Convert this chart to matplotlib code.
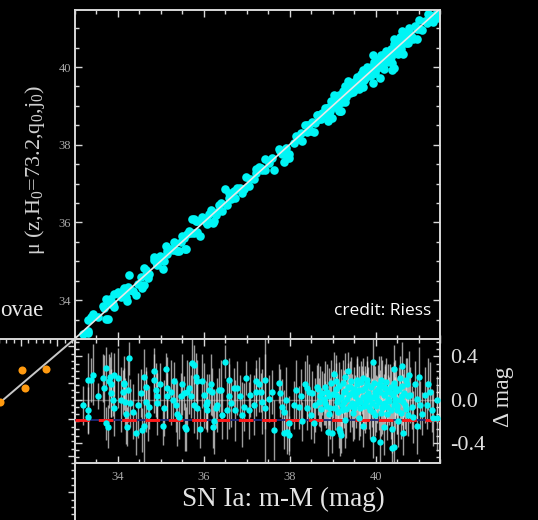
import numpy as np
import matplotlib
matplotlib.use("Agg")
import matplotlib.pyplot as plt
from matplotlib.ticker import MultipleLocator, FormatStrFormatter, NullFormatter

plt.rcParams["font.family"] = ["Liberation Serif", "DejaVu Serif"]
plt.rcParams["mathtext.fontset"] = "custom"
plt.rcParams["mathtext.rm"] = "Liberation Serif"
plt.rcParams["mathtext.it"] = "Liberation Serif:italic"
plt.rcParams["axes.unicode_minus"] = False

# --- SN Ia residuals: distance modulus m-M and delta mag ---
low_x = [33.19, 33.31, 33.32, 33.31, 33.39, 33.42, 33.54, 33.66, 33.68, 33.73,
         33.73, 33.77, 33.81, 33.83, 33.85, 33.85, 33.89, 33.91, 33.93, 34.00,
         34.08, 34.12, 34.14, 34.16, 34.17, 34.20, 34.22, 34.24, 34.27, 34.30,
         34.35, 34.43, 34.47, 34.54, 34.58, 34.62, 34.62, 34.66, 34.66, 34.70,
         34.74, 34.85, 34.85, 34.89, 34.91, 34.93, 34.99, 35.05, 35.08, 35.12,
         35.15, 35.16, 35.24, 35.28, 35.32, 35.35, 35.39, 35.43, 35.47, 35.51,
         35.55, 35.56, 35.59, 35.62, 35.66, 35.70, 35.74, 35.78, 35.79, 35.82,
         35.84, 35.86, 35.93, 35.97, 36.01, 36.05, 36.07, 36.09, 36.13, 36.17,
         36.20, 36.23, 36.24, 36.28, 36.32, 36.36, 36.40, 36.44, 36.51, 36.55,
         36.59, 36.59, 36.63, 36.71, 36.74, 36.78, 36.86, 36.90, 36.94, 36.98,
         37.05, 37.09, 37.17, 37.21]
low_res = [-0.05, -0.10, -0.16, 0.18, 0.18, 0.23, 0.03, 0.20, 0.11, 0.29,
           -0.22, -0.25, 0.17, 0.21, 0.14, 0.06, 0.00, -0.08, 0.23, 0.20,
           0.00, 0.07, 0.14, 0.15, -0.02, -0.13, -0.25, 0.09, 0.38, -0.03,
           -0.11, -0.31, -0.05, 0.06, -0.28, 0.21, -0.24, 0.12, -0.02, -0.14,
           -0.07, 0.26, 0.18, 0.09, 0.03, -0.03, 0.14, -0.24, -0.08, 0.28,
           0.11, 0.03, 0.07, 0.00, 0.17, -0.05, -0.13, -0.16, 0.03, 0.14,
           0.06, -0.25, -0.27, 0.07, 0.11, 0.03, 0.34, 0.32, -0.05, 0.21,
           -0.08, 0.17, -0.27, 0.17, 0.04, -0.05, -0.10, -0.02, 0.09, 0.14,
           0.07, -0.25, -0.20, -0.08, -0.05, 0.09, 0.09, -0.14, 0.35, -0.10,
           0.03, 0.18, -0.03, 0.11, -0.10, 0.11, 0.03, -0.14, -0.07, 0.20,
           -0.10, 0.04, -0.05, 0.07]
low_err = [0.18, 0.22, 0.15, 0.25, 0.20, 0.28, 0.12, 0.22, 0.30, 0.20,
           0.15, 0.20, 0.25, 0.18, 0.30, 0.22, 0.15, 0.26, 0.20, 0.28,
           0.30, 0.20, 0.15, 0.25, 0.22, 0.28, 0.18, 0.30, 0.15, 0.22,
           0.25, 0.20, 0.30, 0.22, 0.20, 0.26, 0.38, 0.18, 0.28, 0.24,
           0.20, 0.16, 0.30, 0.25, 0.22, 0.30, 0.20, 0.18, 0.26, 0.15,
           0.28, 0.22, 0.30, 0.20, 0.18, 0.25, 0.30, 0.20, 0.22, 0.28,
           0.16, 0.22, 0.20, 0.30, 0.24, 0.20, 0.32, 0.18, 0.26, 0.22,
           0.28, 0.20, 0.18, 0.25, 0.30, 0.22, 0.20, 0.26, 0.15, 0.28,
           0.22, 0.20, 0.30, 0.18, 0.25, 0.20, 0.28, 0.22, 0.15, 0.26,
           0.30, 0.20, 0.22, 0.18, 0.28, 0.25, 0.20, 0.30, 0.22, 0.16,
           0.26, 0.20, 0.28, 0.22]

high_x = [37.21, 37.29, 37.33, 37.37, 37.44, 37.44, 37.52, 37.60, 37.64, 37.75,
          37.79, 37.83, 37.87, 37.91, 37.87, 37.95, 37.99, 37.99, 38.10, 38.14,
          38.22, 38.26, 38.29, 38.37, 38.41, 38.41, 38.45, 38.49, 38.53, 38.56,
          38.60, 38.64, 38.68, 38.72, 38.76, 38.80, 38.83, 38.87, 38.90, 38.91,
          38.95, 38.99, 39.03, 39.07, 39.07, 39.10, 39.13, 39.14, 39.18, 39.20,
          39.22, 39.26, 39.30, 39.30, 39.34, 39.37, 39.41, 39.45, 39.49, 39.53,
          39.57, 39.57, 39.61, 39.65, 39.68, 39.72, 39.72, 39.76, 39.80, 39.80,
          39.84, 39.88, 39.92, 39.95, 39.95, 39.99, 39.99, 40.03, 40.07, 40.11,
          40.13, 40.15, 40.19, 40.19, 40.22, 40.22, 40.26, 40.30, 40.34, 40.38,
          40.38, 40.42, 40.42, 40.44, 40.46, 40.46, 40.49, 40.53, 40.57, 40.61,
          40.61, 40.65, 40.69, 40.73, 40.76, 40.78, 40.80, 40.84, 40.88, 40.92,
          40.96, 40.96, 41.00, 41.03, 41.07, 41.15, 41.19, 41.23, 41.27, 41.31,
          41.34, 41.42, 41.44]
high_res = [0.17, 0.14, 0.07, -0.02, 0.18, -0.08, 0.01, 0.07, -0.28, 0.15,
            0.06, -0.07, -0.11, 0.00, -0.31, -0.30, -0.22, -0.33, -0.05, 0.09,
            -0.07, 0.03, -0.20, 0.14, 0.11, -0.08, 0.07, -0.14, 0.06, -0.22,
            -0.05, 0.12, -0.02, 0.03, 0.06, 0.01, -0.03, 0.07, -0.30, -0.13,
            -0.08, -0.31, 0.24, 0.17, 0.04, -0.02, -0.11, -0.27, -0.30, -0.33,
            -0.05, 0.07, 0.21, -0.19, 0.01, 0.26, 0.12, -0.03, -0.08, 0.03,
            0.18, 0.07, -0.17, -0.02, 0.09, 0.20, -0.24, -0.05, 0.14, 0.04,
            0.01, -0.10, -0.03, -0.36, 0.35, 0.07, -0.14, 0.00, 0.14, -0.39,
            0.18, -0.08, 0.04, -0.25, 0.11, -0.03, -0.13, 0.01, 0.07, -0.45,
            -0.27, -0.44, -0.05, 0.28, 0.11, 0.01, -0.10, -0.20, 0.20, 0.31,
            0.03, -0.31, -0.05, 0.14, -0.14, 0.23, 0.04, -0.07, -0.16, 0.14,
            -0.24, 0.01, 0.21, -0.05, -0.13, 0.04, -0.05, 0.14, 0.07, -0.10,
            -0.17, 0.00, -0.17]
high_err = [0.20, 0.25, 0.18, 0.30, 0.45, 0.50, 0.22, 0.20, 0.28, 0.18,
            0.22, 0.26, 0.20, 0.30, 0.15, 0.20, 0.25, 0.18, 0.22, 0.28,
            0.20, 0.25, 0.18, 0.22, 0.30, 0.20, 0.26, 0.22, 0.20, 0.18,
            0.25, 0.20, 0.22, 0.28, 0.20, 0.24, 0.20, 0.26, 0.22, 0.20,
            0.28, 0.18, 0.20, 0.24, 0.22, 0.26, 0.20, 0.18, 0.22, 0.16,
            0.24, 0.20, 0.22, 0.26, 0.20, 0.18, 0.24, 0.22, 0.28, 0.20,
            0.22, 0.26, 0.20, 0.24, 0.22, 0.18, 0.20, 0.26, 0.22, 0.24,
            0.20, 0.26, 0.22, 0.18, 0.25, 0.24, 0.20, 0.22, 0.26, 0.20,
            0.22, 0.24, 0.20, 0.26, 0.22, 0.20, 0.24, 0.22, 0.26, 0.18,
            0.22, 0.20, 0.24, 0.22, 0.26, 0.20, 0.22, 0.24, 0.20, 0.22,
            0.26, 0.20, 0.22, 0.24, 0.20, 0.22, 0.26, 0.20, 0.24, 0.22,
            0.26, 0.20, 0.28, 0.22, 0.20, 0.26, 0.22, 0.24, 0.28, 0.20,
            0.26, 0.22, 0.30]

# the crowded part of the Hubble flow, 38.7 < m-M < 40.8
cloud_x = [39.02, 39.05, 39.09, 39.12, 39.16, 39.19, 39.21, 39.24, 39.27, 39.29,
           39.32, 39.35, 39.38, 39.40, 39.43, 39.46, 39.48, 39.51, 39.54, 39.56,
           39.59, 39.62, 39.64, 39.67, 39.70, 39.73, 39.75, 39.78, 39.81, 39.83,
           39.86, 39.89, 39.91, 39.94, 39.97, 40.00, 40.02, 40.05, 40.08, 40.10,
           40.12, 40.16, 40.18, 40.21, 40.24, 40.27, 40.29, 40.32, 40.35, 40.37,
           40.40, 40.43, 40.45, 40.48, 40.51, 40.54, 40.56, 40.59, 40.62, 40.64,
           40.67, 40.70, 40.72, 40.75, 38.82, 38.86, 38.93, 38.97, 38.74, 38.66]
cloud_res = [0.05, -0.08, 0.10, 0.00, 0.13, 0.02, -0.10, 0.15, -0.02, 0.08,
             -0.09, 0.12, 0.04, -0.06, 0.17, 0.06, -0.12, 0.10, -0.04, 0.14,
             0.00, 0.09, -0.08, 0.16, 0.02, -0.06, 0.11, -0.01, 0.18, 0.06,
             -0.07, 0.12, 0.02, -0.11, 0.15, 0.03, -0.06, 0.10, -0.02, 0.07,
             -0.12, 0.13, -0.04, 0.05, 0.16, -0.07, 0.09, -0.01, 0.12, -0.10,
             0.04, 0.15, -0.03, 0.08, -0.06, 0.10, 0.00, -0.12, 0.13, -0.02,
             0.06, 0.18, -0.09, 0.03, 0.12, -0.06, 0.03, 0.15, -0.09, 0.10]
cloud_err = [0.22, 0.20, 0.24, 0.18, 0.22, 0.26, 0.20, 0.22, 0.24, 0.20,
             0.26, 0.22, 0.20, 0.24, 0.22, 0.18, 0.26, 0.20, 0.22, 0.24,
             0.20, 0.22, 0.26, 0.20, 0.24, 0.22, 0.20, 0.26, 0.22, 0.24,
             0.20, 0.22, 0.18, 0.26, 0.22, 0.20, 0.24, 0.22, 0.26, 0.20,
             0.22, 0.24, 0.20, 0.26, 0.22, 0.20, 0.24, 0.22, 0.18, 0.26,
             0.22, 0.20, 0.24, 0.22, 0.26, 0.20, 0.22, 0.24, 0.20, 0.26,
             0.22, 0.20, 0.24, 0.22, 0.24, 0.20, 0.26, 0.22, 0.20, 0.24]

offset_level = -0.19      # red dashed reference level in the residual panel

# neighbouring (cut off) panel on the left: a few orange calibrators and their fit
ladder_x = [32.51, 32.84, 32.555, 32.212]
ladder_y = [32.675, 32.69, 32.43, 32.237]
ladder_slope = 0.853
ladder_pivot = (33.233, 33.1)

dm = np.array(low_x + high_x + cloud_x)
res = np.array(low_res + high_res + cloud_res)
err = np.array(low_err + high_err + cloud_err)
mu = dm + res

W, H = 538, 520
CYAN = "#00f5f5"
SPINE = "#d8d8d8"
TICKLAB = "#a8a8a8"

fig = plt.figure(figsize=(W / 100, H / 100), dpi=100, facecolor="black")


def px_axes(left, top, right, bottom):
    return fig.add_axes([left / W, 1 - bottom / H, (right - left) / W, (bottom - top) / H])


def style(ax):
    ax.set_facecolor("black")
    for s in ax.spines.values():
        s.set_color(SPINE)
        s.set_linewidth(1.4)
    ax.tick_params(which="both", direction="in", color=SPINE, width=1.0,
                   top=True, right=True, labelcolor=TICKLAB, labelsize=9)
    ax.tick_params(which="major", length=5)
    ax.tick_params(which="minor", length=2.6)


# left neighbour panel (mostly outside the frame)
ax_l = px_axes(-290.5, 339, 74.5, 704)
style(ax_l)
ax_l.set_xlim(ladder_pivot[0] - 5, ladder_pivot[0])
ax_l.set_ylim(ladder_pivot[1] - 5, ladder_pivot[1])
lx = np.array(ax_l.get_xlim())
ax_l.plot(lx, ladder_pivot[1] + ladder_slope * (lx - ladder_pivot[0]), color="#c8c8c8", lw=1.4)
ax_l.plot(ladder_x, ladder_y, "o", color="#ff9a10", ms=5.8, mec="none")
ax_l.xaxis.set_major_locator(MultipleLocator(0.5))
ax_l.xaxis.set_minor_locator(MultipleLocator(0.1))
ax_l.yaxis.set_major_locator(MultipleLocator(0.5))
ax_l.yaxis.set_minor_locator(MultipleLocator(0.1))
ax_l.tick_params(which="both", bottom=False, left=False, labelbottom=False, labelleft=False)

# Hubble diagram
ax_t = px_axes(74.5, 9.5, 440, 339)
style(ax_t)
ax_t.set_xlim(33, 41.5)
ax_t.set_ylim(33, 41.48)
ax_t.plot(dm, mu, "o", color=CYAN, ms=6.2, mec="none", zorder=2)
fx = np.array(ax_t.get_xlim())
ax_t.plot(fx, fx, color="#e8e8e8", lw=1.2, zorder=3)
ax_t.xaxis.set_major_locator(MultipleLocator(2))
ax_t.xaxis.set_minor_locator(MultipleLocator(0.5))
ax_t.yaxis.set_major_locator(MultipleLocator(2))
ax_t.yaxis.set_minor_locator(MultipleLocator(0.5))
ax_t.xaxis.set_major_formatter(NullFormatter())
ax_t.tick_params(axis="y", pad=2.5)

# residuals
ax_b = px_axes(74.5, 339, 440, 462.5)
style(ax_b)
ax_b.set_xlim(33, 41.5)
ax_b.set_ylim(-0.58, 0.56)
ax_b.axhline(0, color="#bbbbbb", lw=1.0, alpha=0.5, zorder=1)
ax_b.vlines(dm, res - err, res + err, color="#dadada", lw=1.0, alpha=0.72, zorder=2)
ax_b.axhline(offset_level, color="#1c2a7a", lw=1.3, zorder=3)
ax_b.axhline(offset_level, color="#ff1a1a", lw=2.1, dashes=(5, 3), zorder=3)
ax_b.plot(dm, res, "o", color=CYAN, ms=4.6, mec="none", zorder=4)
ax_b.xaxis.set_major_locator(MultipleLocator(2))
ax_b.xaxis.set_minor_locator(MultipleLocator(0.5))
ax_b.yaxis.set_major_locator(MultipleLocator(0.4))
ax_b.yaxis.set_minor_locator(MultipleLocator(0.4 / 6))
ax_b.yaxis.set_major_formatter(FormatStrFormatter("%.1f"))
ax_b.tick_params(axis="x", pad=6)
ax_b.tick_params(axis="y", labelleft=False, labelright=True, labelsize=16,
                 labelcolor="#dedede", pad=7)

# labels
fig.text(35 / W, 1 - 170 / H, r"μ (z,H$_0$=73.2,q$_0$,j$_0$)", rotation=90,
         ha="center", va="center", color="#d0d0d0", fontsize=16)
fig.text(283 / W, 1 - 506 / H, "SN Ia: m-M (mag)", ha="center", va="baseline",
         color="#e4e4e4", fontsize=19.5)
fig.text(504 / W, 1 - 397 / H, "Δ mag", rotation=90, ha="center", va="center",
         color="#dedede", fontsize=17)
fig.text(43 / W, 1 - 311 / H, "ovae", ha="right", va="center", color="#e8e8e8",
         fontsize=16.5)
fig.text(431 / W, 1 - 315 / H, "credit: Riess", ha="right", va="baseline",
         color="white", fontsize=12.5, family=["Open Sans", "DejaVu Sans"])

fig.savefig("out.png", dpi=100, facecolor="black")
